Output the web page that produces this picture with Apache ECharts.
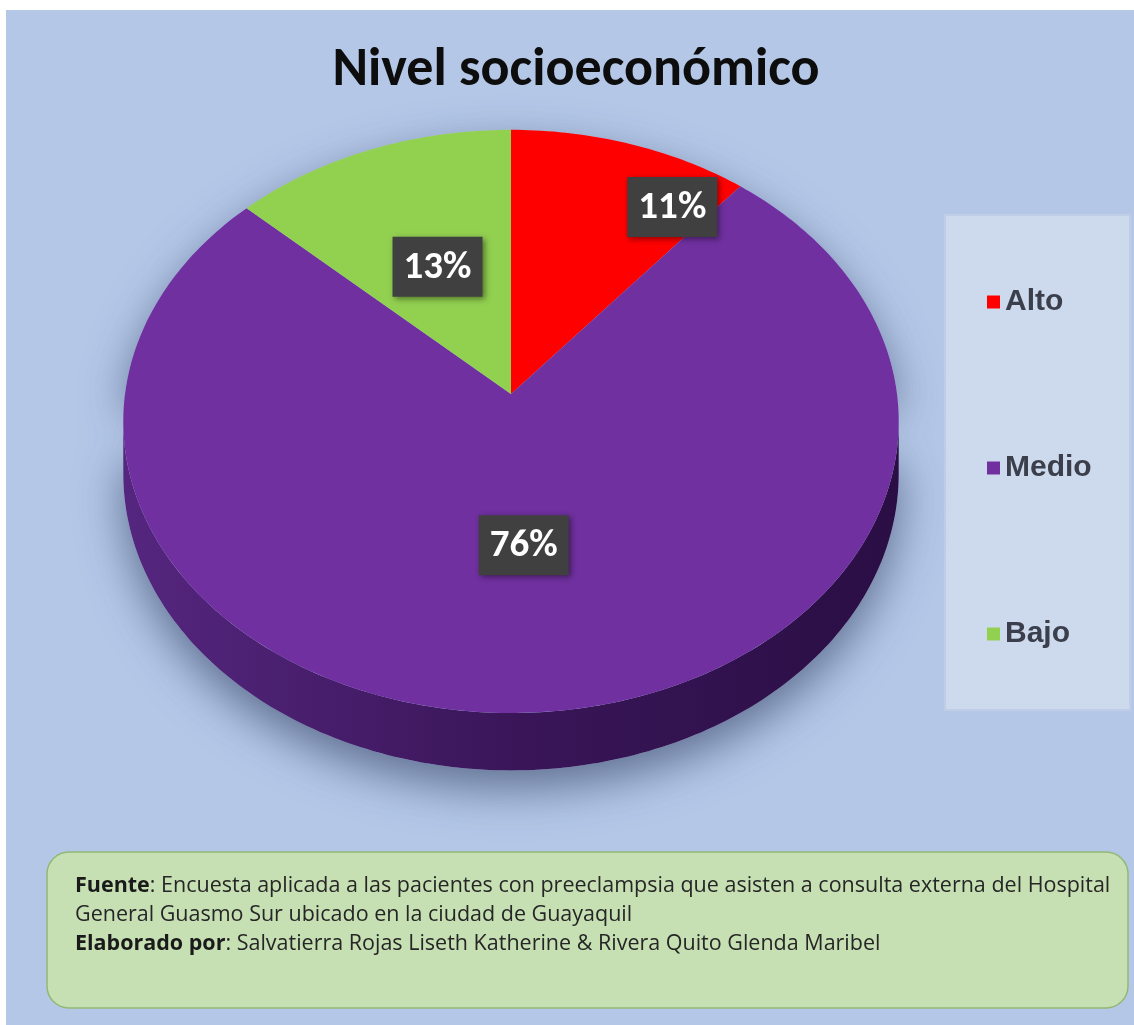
<!DOCTYPE html>
<html>
<head>
<meta charset="utf-8">
<script src="https://cdn.jsdelivr.net/npm/echarts@6/dist/echarts.min.js"></script>
<style>
html,body{margin:0;padding:0;background:#ffffff;}
#chart{width:1134px;height:1025px;}
</style>
</head>
<body>
<div id="chart"></div>
<script>
// ---- data ----
const categories = ['Alto', 'Medio', 'Bajo'];
const values = [11, 76, 13];
const titleText = 'Nivel socioeconómico';
const sourceLines = [
  ['Fuente', ': Encuesta aplicada a las pacientes con preeclampsia que asisten a consulta externa del Hospital'],
  ['', 'General Guasmo Sur ubicado en la ciudad de Guayaquil'],
  ['Elaborado por', ': Salvatierra Rojas Liseth Katherine & Rivera Quito Glenda Maribel']
];

// ---- styling / layout ----
const palette = ['#ff0000', '#7030a0', '#92d050'];
const sideStops = [
  [{offset: 0, color: '#55267f'}, {offset: 0.5, color: '#3a1659'}, {offset: 1, color: '#2a0e44'}],
  [{offset: 0, color: '#55267f'}, {offset: 0.5, color: '#3a1659'}, {offset: 1, color: '#2a0e44'}],
  [{offset: 0, color: '#55267f'}, {offset: 0.5, color: '#3a1659'}, {offset: 1, color: '#2a0e44'}]
];
const PIE = {cx: 511, cy: 394, A: 386, B: 289, k: 0.094, depth: 52};
const labelPlace = {Alto: {f: 0.83, r: 0.82}};
const FONT = 'Carlito, Lato, "Open Sans", sans-serif';
const FOOT_FONT = '"Open Sans", Lato, sans-serif';

const total = values.reduce((a, b) => a + b, 0);
const TAU = Math.PI * 2;

function proj(phi, r, dy) {
  const u = r * Math.sin(phi), v = r * Math.cos(phi);
  const s = 1 / (1 + PIE.k * v);
  return [PIE.cx + PIE.A * u * s, PIE.cy - PIE.B * v * s + (dy || 0) * s];
}
function arcPts(a, b, r, dy) {
  const n = Math.max(2, Math.ceil(Math.abs(b - a) / (Math.PI / 180)));
  const pts = [];
  for (let j = 0; j <= n; j++) pts.push(proj(a + (b - a) * j / n, r, dy));
  return pts;
}
const phiL = Math.acos(-PIE.k);
const phiR = TAU - phiL;

function makeRender(i) {
  return function (params, api) {
    const val = api.value(0);
    let before = 0;
    for (let j = 0; j < i; j++) before += values[j];
    const a = before / total * TAU;
    const b = a + val / total * TAU;
    const children = [];
    if (i === 0) {
      // soft shadow of whole pie body
      const outline = arcPts(-Math.PI / 2, Math.PI / 2, 1, 0).reverse()
        .concat(arcPts(Math.PI / 2, 3 * Math.PI / 2, 1, PIE.depth));
      children.push({
        type: 'polygon', shape: {points: outline}, z2: -5,
        style: {fill: '#b4c7e7', shadowBlur: 45, shadowColor: 'rgba(40,55,90,0.6)', shadowOffsetY: 18}
      });
    }
    const lo = Math.max(a, phiL), hi = Math.min(b, phiR);
    if (hi > lo) {
      const pts = arcPts(lo, hi, 1, 0).concat(arcPts(hi, lo, 1, PIE.depth));
      children.push({
        type: 'polygon', shape: {points: pts}, z2: 1,
        style: {fill: new echarts.graphic.LinearGradient(0, 0, 1, 0, sideStops[i])}
      });
    }
    children.push({
      type: 'polygon', z2: 5,
      shape: {points: [proj(0, 0, 0)].concat(arcPts(a, b, 1, 0))},
      style: {fill: palette[i]}
    });
    const lp = labelPlace[categories[i]] || {f: 0.5, r: 0.5};
    const c = proj(a + (b - a) * lp.f, lp.r, 0);
    children.push({
      type: 'rect', z2: 10,
      shape: {x: c[0] - 45, y: c[1] - 30, width: 90, height: 60},
      style: {fill: '#404040', shadowBlur: 6, shadowColor: 'rgba(0,0,0,0.45)', shadowOffsetX: 2, shadowOffsetY: 2}
    });
    children.push({
      type: 'text', z2: 11, x: c[0], y: c[1] + 1,
      style: {
        text: Math.round(val / total * 100) + '%',
        fill: '#ffffff', fontSize: 39, fontWeight: 'bold', fontFamily: FONT,
        align: 'center', verticalAlign: 'middle'
      }
    });
    return {type: 'group', children: children};
  };
}

const series = categories.map((name, i) => ({
  type: 'custom',
  name: name,
  coordinateSystem: 'none',
  itemStyle: {color: palette[i]},
  renderItem: makeRender(i),
  data: [[values[i]]],
  silent: true
}));

const footerText = sourceLines.map(l => (l[0] ? '{b|' + l[0] + '}' : '') + '{n|' + l[1] + '}').join('\n');

const chart = echarts.init(document.getElementById('chart'), null, {renderer: 'canvas'});
chart.setOption({
  backgroundColor: '#ffffff',
  animation: false,
  legend: {
    data: categories,
    orient: 'vertical',
    left: 982, top: 281,
    itemGap: 134,
    itemWidth: 13, itemHeight: 13,
    icon: 'rect',
    selectedMode: false,
    textStyle: {fontSize: 30, fontWeight: 'bold', fontFamily: '"Liberation Sans", Arial, sans-serif', color: '#3a3f4b', lineHeight: 32}
  },
  graphic: [
    {type: 'rect', z: -10, shape: {x: 6, y: 10, width: 1128, height: 1015}, style: {fill: '#b4c7e7'}},
    {type: 'rect', z: -9, shape: {x: 945, y: 215, width: 185, height: 495}, style: {fill: '#cdd9ec', stroke: '#bfcde6', lineWidth: 2}},
    {type: 'text', z: 5, x: 576, y: 71, style: {text: titleText, fontSize: 54, fontWeight: 'bold', fontFamily: FONT, fill: '#0d0d0d', align: 'center', verticalAlign: 'middle'}},
    {type: 'rect', z: -9, shape: {x: 47, y: 852, width: 1081, height: 156, r: 22}, style: {fill: '#c6e0b4', stroke: '#93b874', lineWidth: 1.5}},
    {type: 'text', z: 5, x: 75, y: 871, style: {
      text: footerText,
      rich: {
        b: {fontSize: 21.5, fontWeight: 'bold', fontFamily: FOOT_FONT, fill: '#1a1a1a', lineHeight: 29},
        n: {fontSize: 21.5, fontFamily: FOOT_FONT, fill: '#262626', lineHeight: 29}
      }
    }}
  ],
  series: series
});
</script>
</body>
</html>
